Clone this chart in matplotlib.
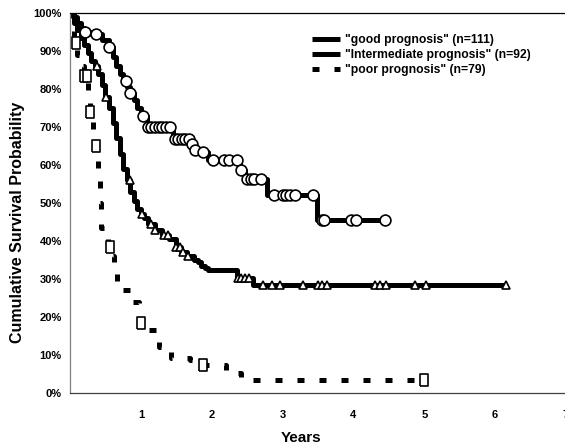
import matplotlib
matplotlib.use("Agg")
import matplotlib.pyplot as plt
import numpy as np

plt.rcParams['font.family'] = ['Liberation Sans', 'DejaVu Sans']
plt.rcParams['font.weight'] = 'bold'

# Kaplan-Meier step points (years, survival %)
good_t = [0, 0.05, 0.1, 0.15, 0.2, 0.3, 0.45, 0.55, 0.6, 0.65, 0.7, 0.75, 0.8,
          0.85, 0.9, 0.95, 1.0, 1.08, 1.45, 1.7, 1.74, 1.85, 1.95, 2.4, 2.47,
          2.78, 3.48]
good_s = [100, 99, 97.5, 96, 95, 94.5, 93, 91, 88.5, 86, 84, 82, 80.5,
          79, 77, 75, 73, 70, 66.8, 65.5, 64, 63.3, 61.3, 58.6, 56.2,
          52.2, 45.5]
good_end = 4.44
good_cens = [0.21, 0.37, 0.55, 0.79, 0.85, 1.03, 1.1, 1.15, 1.2, 1.25, 1.3,
             1.36, 1.41, 1.48, 1.53, 1.58, 1.63, 1.68, 1.72, 1.76, 1.87, 2.02,
             2.17, 2.25, 2.35, 2.42, 2.5, 2.55, 2.6, 2.7, 2.88, 3.0, 3.05, 3.1,
             3.17, 3.43, 3.55, 3.58, 3.96, 4.03, 4.44]

inter_t = [0, 0.05, 0.1, 0.15, 0.2, 0.25, 0.3, 0.35, 0.4, 0.45, 0.5, 0.55,
           0.6, 0.65, 0.7, 0.75, 0.8, 0.85, 0.9, 0.95, 1.0, 1.05, 1.1, 1.2,
           1.3, 1.4, 1.5, 1.57, 1.65, 1.75, 1.8, 1.85, 1.9, 1.95, 2.35, 2.58]
inter_s = [100, 97.5, 95.5, 93.5, 91.5, 89.5, 87.5, 86, 84, 81, 78, 75,
           71, 67, 63, 59, 56, 53, 50.5, 48.5, 47, 46, 44.5, 43,
           41.5, 40.5, 38.5, 37, 36, 35, 34.5, 33.5, 33, 32.5, 30.3, 28.5]
inter_end = 6.16
inter_cens = [0.38, 0.51, 0.84, 1.01, 1.15, 1.2, 1.33, 1.38, 1.5, 1.55, 1.6,
              1.66, 2.37, 2.42, 2.47, 2.52, 2.72, 2.85, 2.96, 3.29, 3.5, 3.55,
              3.62, 4.3, 4.38, 4.46, 4.87, 5.03, 6.16]

poor_t = [0, 0.03, 0.06, 0.1, 0.15, 0.2, 0.25, 0.28, 0.32, 0.35, 0.38, 0.4,
          0.42, 0.44, 0.5, 0.54, 0.58, 0.62, 0.67, 0.85, 0.98, 1.12, 1.25,
          1.42, 1.7, 1.85, 2.2, 2.42]
poor_s = [100, 96, 92, 89, 86, 83.5, 79.5, 74, 69, 65, 61, 57,
          50, 43.5, 40.5, 38.5, 36, 33, 27.2, 24, 18.5, 16.5, 12.1,
          9.2, 8.7, 7.4, 5.3, 3.4]
poor_end = 5.0
poor_cens = [0.08, 0.2, 0.24, 0.28, 0.37, 0.56, 1.0, 1.88, 5.0]

labels = ['"good prognosis" (n=111)', '"Intermediate prognosis" (n=92)',
          '"poor prognosis" (n=79)']
yticks = [0, 10, 20, 30, 40, 50, 60, 70, 80, 90, 100]
xticks = [1, 2, 3, 4, 5, 6, 7]


def surv_at(t, s, x):
    idx = np.searchsorted(t, x, side='right') - 1
    return np.array(s)[idx]


# slightly tall rectangle, like the censor boxes in the original
tall_box = [(-0.4, -0.5), (0.4, -0.5), (0.4, 0.5), (-0.4, 0.5), (-0.4, -0.5)]

fig = plt.figure(figsize=(5.65, 4.47), dpi=100)
ax = fig.add_axes([70 / 565, 54 / 447, 496 / 565, 380 / 447])

curves = [
    (good_t, good_s, good_end, good_cens, 'o', '-', 7.8),
    (inter_t, inter_s, inter_end, inter_cens, '^', '-', 6),
    (poor_t, poor_s, poor_end, poor_cens, tall_box, (0, (1.4, 3)), 8),
]
handles = []
for (t, s, end, cens, mk, ls, ms), lab in zip(curves, labels):
    tt = list(t) + [end]
    ss = list(s) + [s[-1]]
    h, = ax.step(tt, ss, where='post', color='black', lw=3.6, ls=ls,
                 solid_capstyle='butt', dash_capstyle='butt', label=lab)
    handles.append(h)
    ax.plot(cens, surv_at(t, s, cens), marker=mk, ls='none', ms=ms,
            mfc='white', mec='black', mew=1.2, zorder=3)

ax.set_xlim(0, 7)
ax.set_ylim(0, 100)
ax.set_xticks(xticks)
ax.set_yticks(yticks)
ax.set_yticklabels([f'{v}%' for v in yticks])
ax.tick_params(length=0, labelsize=8)
ax.tick_params(axis='x', pad=12)
ax.tick_params(axis='y', pad=6)

ax.spines['right'].set_visible(False)
ax.spines['top'].set_color('black')
ax.spines['left'].set_color('#808080')
ax.spines['bottom'].set_color('#404040')
for sp in ax.spines.values():
    sp.set_linewidth(0.9)

ax.set_xlabel('Years', fontsize=11, fontweight='bold')
ax.set_ylabel('Cumulative Survival Probability', fontsize=11.5, fontweight='bold')
ax.xaxis.set_label_coords(0.465, -0.1)
ax.yaxis.set_label_coords(-0.09, 0.45)

ax.legend(handles=handles, loc='upper left', bbox_to_anchor=(312 / 565, 1 - 34 / 447),
          bbox_transform=fig.transFigure, frameon=False, fontsize=8.7,
          handlelength=2.3, handletextpad=0.4, labelspacing=0.25,
          borderpad=0, borderaxespad=0)

fig.savefig('out.png', dpi=100)
